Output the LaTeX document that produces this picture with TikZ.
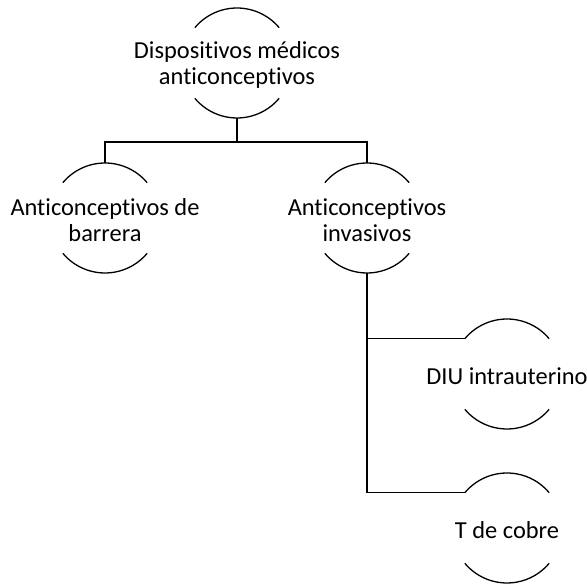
\documentclass[tikz,border=0pt]{standalone}
\usepackage{fontspec}
\setmainfont[Ligatures=NoCommon]{Carlito}
\usetikzlibrary{calc}

\tikzset{
	bubble/.style={circle,minimum size=110bp,inner sep=0pt,outer sep=0pt},
	txt/.style={align=center,font=\fontsize{24.5}{26}\selectfont,inner sep=0pt,yshift=-2bp},
	link/.style={line width=1.3bp}
}

\begin{document}
\begin{tikzpicture}[x=1bp,y=1bp,line width=1.3bp]
	\useasboundingbox (0,0) rectangle (587,585);
	\node[bubble,label={[txt]center:Dispositivos médicos\\anticonceptivos}] (disp) at (237,522) {};
	\node[bubble,label={[txt]center:Anticonceptivos de\\barrera}] (barr) at (105,367) {};
	\node[bubble,label={[txt]center:Anticonceptivos\\invasivos}] (inva) at (367,367) {};
	\node[bubble,label={[txt]center:DIU intrauterino}] (diu) at (507,211) {};
	\node[bubble,label={[txt]center:T de cobre}] (cobre) at (507,57) {};
	\foreach \n in {disp,barr,inva,diu,cobre} {
		\draw (\n.140) arc[start angle=140,end angle=40,radius=55bp];
		\draw (\n.220) arc[start angle=220,end angle=320,radius=55bp];
	}
	\draw[link] (disp.south) -- ++(0,-24) coordinate (bus);
	\draw[link] (barr.north) |- (bus) -| (inva.north);
	\draw[link] (inva.south) |- (diu.140);
	\draw[link] (inva.south) |- (cobre.140);
\end{tikzpicture}
\end{document}
